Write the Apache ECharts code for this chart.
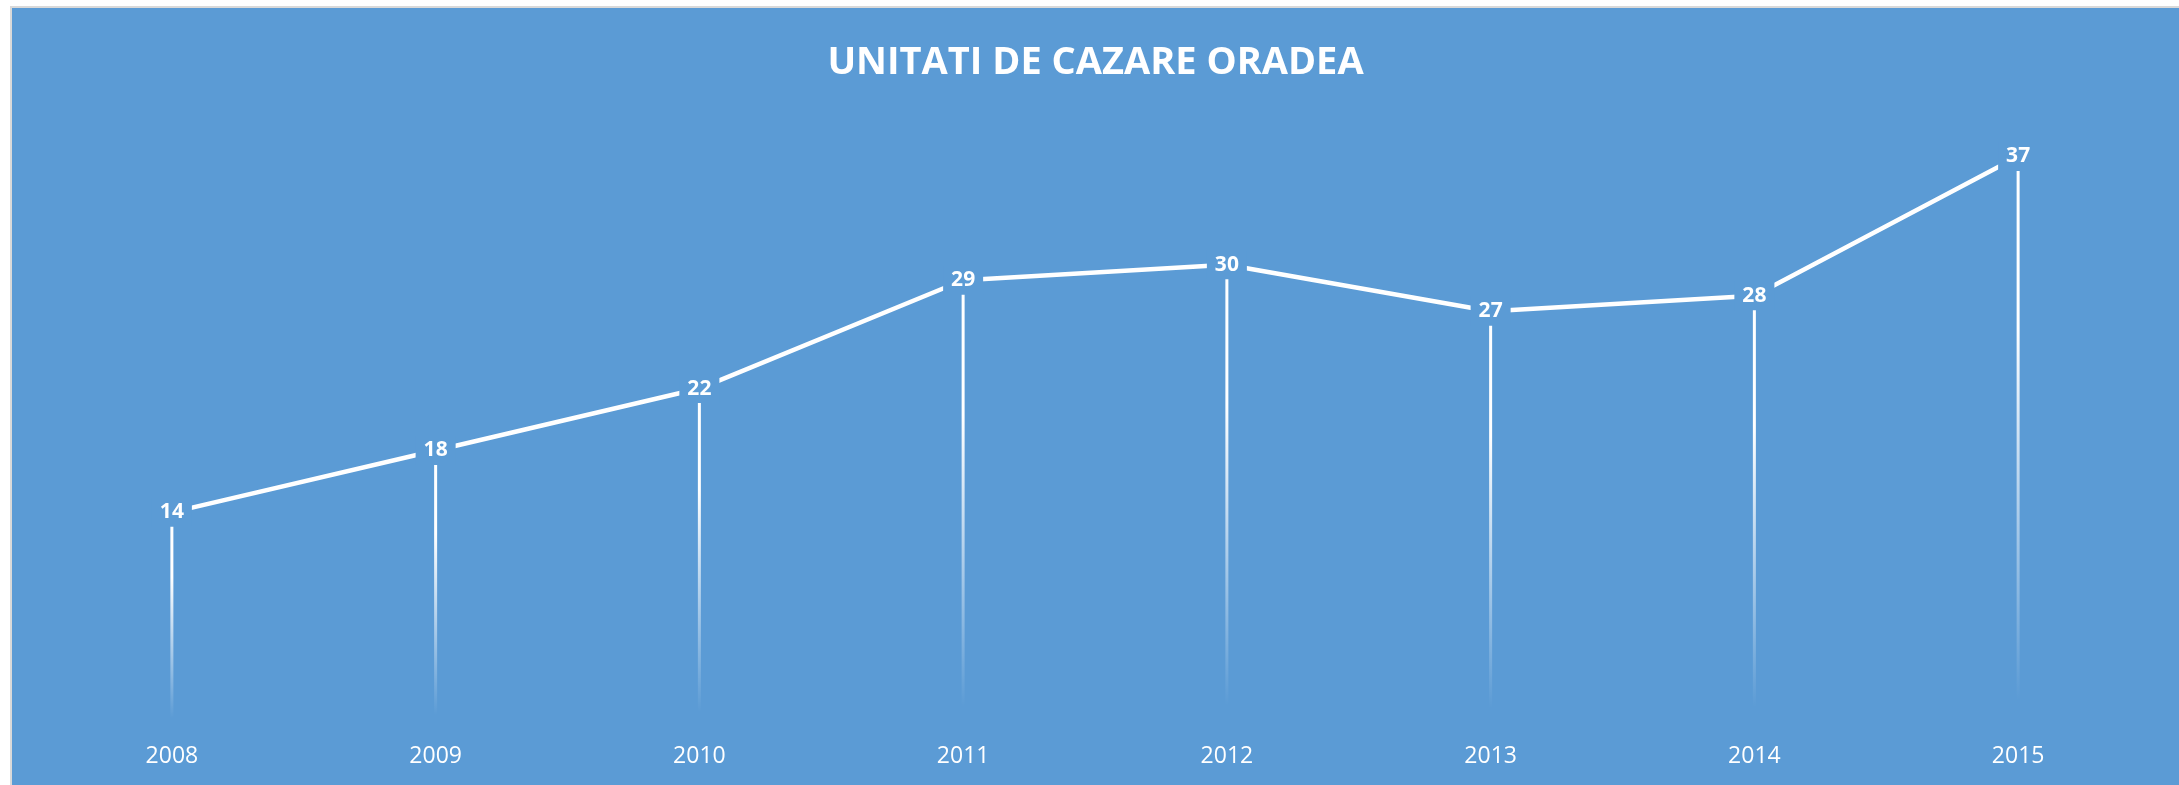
<!DOCTYPE html>
<html>
<head>
<meta charset="utf-8">
<script src="https://cdn.jsdelivr.net/npm/echarts@6/dist/echarts.min.js"></script>
<style>
  html, body { margin: 0; padding: 0; background: #fff; }
  #chart {
    position: absolute; left: 10px; top: 6px;
    width: 2169px; height: 779px;
    box-sizing: border-box;
    border-left: 2px solid #d9d9d9;
    border-top: 2px solid #d9d9d9;
  }
</style>
</head>
<body>
<div id="chart"></div>
<script>
const years = ['2008', '2009', '2010', '2011', '2012', '2013', '2014', '2015'];
const units = [14, 18, 22, 29, 30, 27, 28, 37];

const bg = '#5B9BD5';
const chart = echarts.init(document.getElementById('chart'));

let option = {
  backgroundColor: bg,
  title: {
    text: 'UNITATI DE CAZARE ORADEA',
    left: 'center',
    top: 31,
    textStyle: {
      color: '#fff',
      fontFamily: 'Open Sans',
      fontWeight: 'bold',
      fontSize: 38,
      letterSpacing: 2
    }
  },
  grid: { left: 28, right: 29, top: 102, bottom: 56 },
  xAxis: {
    type: 'category',
    data: years,
    axisLine: { show: false },
    axisTick: { show: false },
    axisLabel: {
      color: '#fff',
      fontFamily: 'Open Sans',
      fontSize: 23,
      margin: 16
    }
  },
  yAxis: {
    type: 'value',
    min: 0,
    max: 40,
    show: false,
    splitLine: { show: false }
  },
  series: [
    {
      // drop lines
      type: 'bar',
      data: units,
      barWidth: 3,
      z: 1,
      silent: true,
      itemStyle: {
        color: {
          type: 'linear', x: 0, y: 0, x2: 0, y2: 1,
          colorStops: [
            { offset: 0, color: 'rgba(255,255,255,1)' },
            { offset: 0.3, color: 'rgba(255,255,255,1)' },
            { offset: 0.95, color: 'rgba(255,255,255,0)' },
            { offset: 1, color: 'rgba(255,255,255,0)' }
          ]
        }
      }
    },
    {
      type: 'line',
      data: units,
      z: 3,
      symbol: 'circle',
      symbolSize: 2,
      itemStyle: { color: '#fff' },
      lineStyle: { color: '#fff', width: 4.5 },
      label: {
        show: true,
        position: 'inside',
        color: '#fff',
        fontFamily: 'Open Sans',
        fontWeight: 'bold',
        fontSize: 21,
        backgroundColor: bg,
        padding: [4, 8]
      }
    }
  ]
};

chart.setOption(option);
</script>
</body>
</html>
